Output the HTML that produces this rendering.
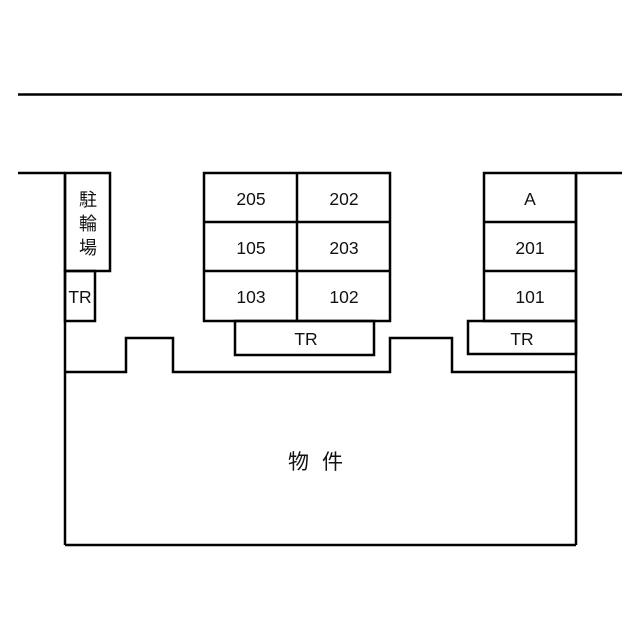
<!DOCTYPE html>
<html><head><meta charset="utf-8"><style>
html,body{margin:0;padding:0;background:#fff;}
svg{display:block;}
text{font-family:"Liberation Sans","Noto Sans CJK JP",sans-serif;fill:#111;}
</style></head><body>
<svg width="640" height="640" viewBox="0 0 640 640" xmlns="http://www.w3.org/2000/svg">
<g stroke="#000" stroke-width="2.5" fill="none">
<line x1="18" y1="94.5" x2="622" y2="94.5"/>
<polyline points="18,173 65,173"/>
<polyline points="576,173 622,173"/>
<line x1="65" y1="173" x2="65" y2="545"/>
<line x1="576" y1="173" x2="576" y2="545"/>
<line x1="65" y1="545" x2="576" y2="545"/>
<polyline points="65,372 126,372 126,338 173,338 173,372 390,372 390,338 452,338 452,372 576,372"/>
<rect x="65" y="173" width="45" height="98"/>
<rect x="65" y="271" width="30" height="50"/>
<rect x="204" y="173" width="186" height="148"/>
<line x1="297" y1="173" x2="297" y2="321"/>
<line x1="204" y1="222" x2="390" y2="222"/>
<line x1="204" y1="271" x2="390" y2="271"/>
<rect x="235" y="321" width="139" height="34"/>
<rect x="484" y="173" width="92" height="148"/>
<line x1="484" y1="222" x2="576" y2="222"/>
<line x1="484" y1="271" x2="576" y2="271"/>
<rect x="468" y="321" width="108" height="33"/>
</g>
<g font-size="17.5" text-anchor="middle">
<text x="88" y="206" font-size="18">駐</text>
<text x="88" y="230" font-size="18">輪</text>
<text x="88" y="254" font-size="18">場</text>
<text x="80" y="303">TR</text>
<text x="251" y="205">205</text>
<text x="344" y="205">202</text>
<text x="251" y="254">105</text>
<text x="344" y="254">203</text>
<text x="251" y="303">103</text>
<text x="344" y="303">102</text>
<text x="306" y="345">TR</text>
<text x="530" y="205">A</text>
<text x="530" y="254">201</text>
<text x="530" y="303">101</text>
<text x="522" y="345">TR</text>
<text x="322" y="469" font-size="21" letter-spacing="13">物件</text>
</g>
</svg>
</body></html>
